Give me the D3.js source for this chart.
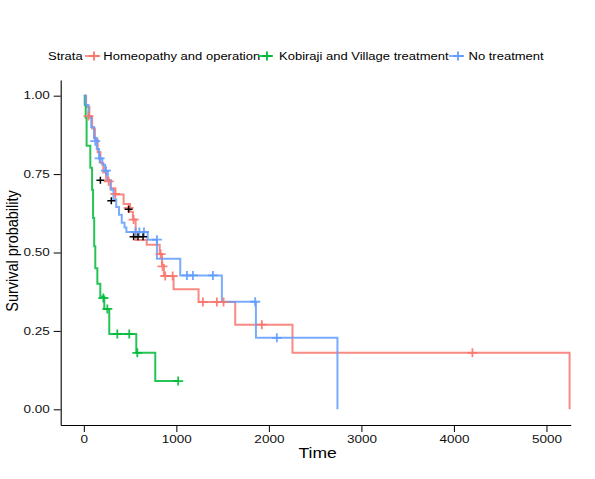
<!DOCTYPE html>
<html>
<head>
<meta charset="utf-8">
<script src="https://cdn.jsdelivr.net/npm/d3@7"></script>
<style>
  body { margin: 0; background: #fff; }
  text { font-family: Arial, "Liberation Sans", sans-serif; }
</style>
</head>
<body>
<div id="chart"></div>
<script>
// ---------------- data ----------------
const strata = ["Homeopathy and operation", "Kobiraji and Village treatment", "No treatment"];
const colors = ["#F8766D", "#00BA38", "#619CFF"];

// [time, survival] steps for each stratum
const homeoSteps = [
  [0, 1], [25, 0.965], [60, 0.93], [90, 0.895], [120, 0.86], [150, 0.82], [180, 0.785],
  [210, 0.755], [240, 0.73], [290, 0.705], [340, 0.685], [430, 0.655], [500, 0.63],
  [530, 0.605], [560, 0.54], [680, 0.525], [820, 0.495], [845, 0.46], [865, 0.425],
  [970, 0.383], [1240, 0.342], [1636, 0.27], [2255, 0.18], [5250, 0]
];
const kobirajiSteps = [
  [0, 1], [10, 0.97], [20, 0.93], [30, 0.84], [70, 0.77], [89, 0.70], [100, 0.61],
  [112, 0.52], [124, 0.45], [146, 0.40], [178, 0.36], [221, 0.32], [275, 0.24],
  [567, 0.18], [772, 0.09], [1020, 0.09]
];
const noTreatSteps = [
  [0, 1], [20, 0.97], [50, 0.935], [80, 0.90], [110, 0.865], [140, 0.83], [165, 0.80],
  [200, 0.78], [230, 0.76], [260, 0.73], [290, 0.70], [320, 0.67], [350, 0.645],
  [380, 0.62], [410, 0.595], [440, 0.58], [460, 0.565], [690, 0.541], [790, 0.48],
  [1042, 0.427], [1492, 0.343], [1860, 0.228], [2741, 0]
];

// censor marks [time, survival]
const homeoCensor = [
  [50, 0.935], [268, 0.727], [340, 0.687], [484, 0.642], [538, 0.605], [830, 0.495],
  [850, 0.456], [880, 0.425], [960, 0.425], [1287, 0.342], [1438, 0.342], [1510, 0.342],
  [1924, 0.27], [4200, 0.18]
];
const kobirajiCensor = [[211, 0.355], [254, 0.32], [362, 0.24], [491, 0.24], [578, 0.18], [1020, 0.09]];
const noTreatCensor = [
  [124, 0.855], [171, 0.80], [240, 0.761], [560, 0.565], [600, 0.565], [650, 0.565],
  [790, 0.541], [1114, 0.427], [1179, 0.427], [1395, 0.427], [1852, 0.343], [2086, 0.228]
];
const blackCensor = [[179, 0.73], [297, 0.665], [484, 0.638], [538, 0.55], [585, 0.55], [640, 0.55]];

const xTicks = [0, 1000, 2000, 3000, 4000, 5000];
const yTicks = [0, 0.25, 0.5, 0.75, 1];

// ---------------- layout ----------------
const WIDTH = 595, HEIGHT = 479;
const PLOT_LEFT = 60.7, PLOT_RIGHT = 570.7, PLOT_TOP = 80, PLOT_BOTTOM = 425;

const svg = d3.select("#chart").append("svg")
  .attr("width", WIDTH)
  .attr("height", HEIGHT);

const x = d3.scaleLinear().domain([-250, 5262]).range([PLOT_LEFT, PLOT_RIGHT]);
const y = d3.scaleLinear().domain([-0.05, 1.05]).range([PLOT_BOTTOM, PLOT_TOP]);

// widen text horizontally, the picture is stretched sideways
function stretch(sel, k) {
  sel.each(function () {
    const n = this.getComputedTextLength();
    d3.select(this).attr("textLength", n * k).attr("lengthAdjust", "spacingAndGlyphs");
  });
}

// ---------------- axes ----------------
const gx = svg.append("g")
  .attr("transform", `translate(0,${PLOT_BOTTOM})`)
  .call(d3.axisBottom(x).tickValues(xTicks).tickFormat(d3.format("d")).tickSize(7).tickPadding(4).tickSizeOuter(0));
gx.select(".domain").attr("stroke", "#000").attr("stroke-width", 1.1);
gx.selectAll(".tick line").attr("stroke", "#000");
gx.selectAll(".tick text").attr("fill", "#111").style("font-size", "10px").call(stretch, 1.35);

const gy = svg.append("g")
  .attr("transform", `translate(${PLOT_LEFT},0)`)
  .call(d3.axisLeft(y).tickValues(yTicks).tickFormat(d3.format(".2f")).tickSize(7).tickPadding(4).tickSizeOuter(0));
gy.select(".domain").attr("stroke", "#000").attr("stroke-width", 1.1);
gy.selectAll(".tick line").attr("stroke", "#000");
gy.selectAll(".tick text").attr("fill", "#111").style("font-size", "10px").call(stretch, 1.35);

svg.append("text")
  .attr("x", (x(-250) + x(5262)) / 2 + 2)
  .attr("y", 458)
  .attr("text-anchor", "middle")
  .style("font-size", "14px")
  .text("Time")
  .call(stretch, 1.25);

svg.append("text")
  .attr("transform", `translate(18,251) scale(1.15,1) rotate(-90)`)
  .attr("text-anchor", "middle")
  .style("font-size", "14.5px")
  .text("Survival probability");

// ---------------- curves ----------------
const line = d3.line()
  .x(d => x(d[0]))
  .y(d => y(d[1]))
  .curve(d3.curveStepAfter);

const allSteps = [homeoSteps, kobirajiSteps, noTreatSteps];
const allCensor = [homeoCensor, kobirajiCensor, noTreatCensor];

svg.append("g").attr("id", "curves")
  .selectAll("path")
  .data(allSteps)
  .join("path")
  .attr("d", line)
  .attr("fill", "none")
  .attr("stroke", (d, i) => colors[i])
  .attr("stroke-width", 2)
  .attr("stroke-opacity", 0.85);

function plus(px, py, w, h) {
  return `M${px - w / 2},${py}h${w}M${px},${py - h / 2}v${h}`;
}

const censorG = svg.append("g").attr("id", "censor");
allCensor.forEach((pts, i) => {
  censorG.append("g")
    .selectAll("path")
    .data(pts)
    .join("path")
    .attr("d", d => plus(x(d[0]), y(d[1]), 10, 9))
    .attr("stroke", colors[i])
    .attr("stroke-width", 1.8)
    .attr("stroke-opacity", 0.9);
});
censorG.append("g")
  .selectAll("path")
  .data(blackCensor)
  .join("path")
  .attr("d", d => plus(x(d[0]), y(d[1]), 8, 7))
  .attr("stroke", "#000")
  .attr("stroke-width", 1.5);

// ---------------- legend ----------------
const legend = svg.append("g").attr("id", "legend");
const LEG_Y = 56;
legend.append("text")
  .attr("x", 48).attr("y", LEG_Y + 4)
  .style("font-size", "10px")
  .text("Strata")
  .call(stretch, 1.3);

const keyX = [85, 258, 449];      // left edge of each key
const labelX = [103.3, 279, 468.5];
strata.forEach((s, i) => {
  legend.append("line")
    .attr("x1", keyX[i]).attr("x2", keyX[i] + 15)
    .attr("y1", LEG_Y).attr("y2", LEG_Y)
    .attr("stroke", colors[i]).attr("stroke-width", 1.6);
  legend.append("path")
    .attr("d", plus(keyX[i] + 9, LEG_Y, 10, 9))
    .attr("stroke", colors[i]).attr("stroke-width", 1.8);
  legend.append("text")
    .attr("x", labelX[i]).attr("y", LEG_Y + 4)
    .style("font-size", "10px")
    .text(s)
    .call(stretch, 1.3);
});
</script>
</body>
</html>
